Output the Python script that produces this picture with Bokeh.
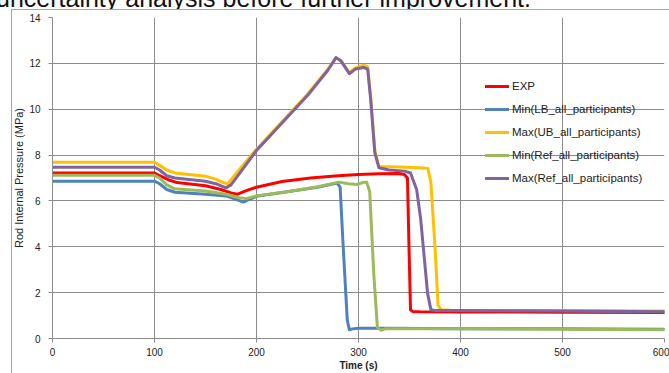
from bokeh.plotting import figure
from bokeh.layouts import column
from bokeh.models import FixedTicker, Legend, LegendItem, Range1d, Div
from bokeh.embed import file_html
from bokeh.resources import INLINE

# ---- data ----
heading_text = "uncertainty analysis before further improvement."
x_label = "Time (s)"
y_label = "Rod Internal Pressure (MPa)"
x_ticks = [0, 100, 200, 300, 400, 500, 600]
y_ticks = [0, 2, 4, 6, 8, 10, 12, 14]

series_names = ["EXP", "Min(LB_all_participants)", "Max(UB_all_participants)",
                "Min(Ref_all_participants)", "Max(Ref_all_participants)"]
series_colors = ["#FF0000", "#4F81BD", "#FFC000", "#9BBB59", "#8064A2"]

exp_t = [0, 100, 105, 115, 122, 150, 165, 175, 181, 190, 200, 225, 253, 280, 300, 320, 340, 345, 348, 349.5, 351, 353, 360, 400, 500, 600]
exp_v = [7.22, 7.22, 7.1, 6.9, 6.8, 6.66, 6.5, 6.35, 6.29, 6.45, 6.6, 6.85, 7.0, 7.1, 7.15, 7.18, 7.2, 7.15, 7.0, 4.0, 1.25, 1.18, 1.17, 1.16, 1.15, 1.13]

minlb_t = [0, 100, 105, 112, 120, 150, 170, 180, 187, 193, 200, 230, 260, 279, 282, 285, 289, 291, 294, 300, 330, 400, 490, 600]
minlb_v = [6.86, 6.86, 6.75, 6.5, 6.38, 6.29, 6.22, 6.07, 5.95, 6.07, 6.2, 6.4, 6.6, 6.78, 6.6, 4.0, 0.8, 0.38, 0.42, 0.45, 0.45, 0.43, 0.42, 0.40]

maxub_t = [0, 100, 105, 112, 120, 150, 160, 168, 172, 180, 200, 225, 250, 270, 278, 283, 291, 297, 305, 309, 312, 316, 320, 340, 360, 368, 371, 375, 378, 381, 390, 500, 600]
maxub_v = [7.69, 7.69, 7.55, 7.35, 7.22, 7.08, 6.95, 6.79, 6.75, 7.2, 8.25, 9.45, 10.65, 11.75, 12.25, 12.1, 11.6, 11.8, 11.92, 11.85, 10.5, 8.2, 7.5, 7.48, 7.45, 7.42, 6.8, 4.0, 1.45, 1.25, 1.23, 1.22, 1.2]

minref_t = [0, 100, 105, 112, 120, 150, 170, 183, 190, 200, 230, 260, 281, 290, 299, 304, 308, 311, 315, 318.5, 322, 326, 400, 500, 600]
minref_v = [7.12, 7.12, 7.0, 6.7, 6.53, 6.43, 6.29, 6.14, 6.1, 6.22, 6.4, 6.62, 6.82, 6.75, 6.72, 6.8, 6.82, 6.4, 2.8, 0.5, 0.36, 0.42, 0.42, 0.40, 0.38]

maxref_t = [0, 100, 105, 112, 120, 150, 160, 170, 175, 200, 225, 250, 270, 278, 283, 291, 297, 305, 309, 312, 316, 320, 330, 345, 351, 357, 361, 364, 367.7, 371, 375, 400, 500, 600]
maxref_v = [7.47, 7.47, 7.35, 7.1, 7.0, 6.86, 6.75, 6.57, 6.7, 8.2, 9.4, 10.6, 11.7, 12.25, 12.1, 11.55, 11.75, 11.82, 11.75, 10.4, 8.1, 7.45, 7.35, 7.3, 7.22, 6.5, 5.2, 3.75, 1.98, 1.25, 1.22, 1.22, 1.2, 1.17]

series_t = [exp_t, minlb_t, maxub_t, minref_t, maxref_t]
series_v = [exp_v, minlb_v, maxub_v, minref_v, maxref_v]

# heading line of the surrounding document, of which only the lower part shows
heading = Div(
    text=('<div style="position:relative; top:-14px; left:-4px; white-space:nowrap; '
          'font-family:\'Liberation Sans\', Arial, sans-serif; font-size:25px; '
          'line-height:25px; color:#111111;">' + heading_text + '</div>'),
    width=669, height=9, margin=0,
    styles={"overflow": "hidden", "background-color": "white"})

# chart-area border (left and top edges) drawn behind the transparent border area
border_css = {
    "background-color": "white",
    "background-image": "linear-gradient(#A6A6A6, #A6A6A6), linear-gradient(#A6A6A6, #A6A6A6)",
    "background-size": "1px 100%, 100% 1px",
    "background-position": "11px 0px, 11px 0px",
    "background-repeat": "no-repeat",
}

# ---- figure ----
p = figure(width=669, height=364, output_backend="svg", toolbar_location=None,
           x_range=Range1d(0, 600), y_range=Range1d(0, 14),
           min_border_left=52, min_border_right=5, min_border_top=8, min_border_bottom=33,
           background_fill_color="white", border_fill_color=None,
           styles=border_css, margin=0)
p.outline_line_color = None

grid_col = "#8C8C8C"
p.xgrid.grid_line_color = grid_col
p.ygrid.grid_line_color = grid_col
p.xaxis.ticker = FixedTicker(ticks=x_ticks)
p.yaxis.ticker = FixedTicker(ticks=y_ticks)
for ax in (p.xaxis[0], p.yaxis[0]):
    ax.axis_line_color = grid_col
    ax.major_tick_line_color = grid_col
    ax.major_tick_out = 4
    ax.major_tick_in = 0
    ax.minor_tick_line_color = None
    ax.major_label_text_font = "Liberation Sans"
    ax.major_label_text_font_size = "10px"
    ax.major_label_text_color = "#222222"
    ax.axis_label_text_font = "Liberation Sans"
    ax.axis_label_text_color = "#222222"

p.xaxis.axis_label = x_label
p.xaxis.axis_label_text_font_size = "10px"
p.xaxis.axis_label_text_font_style = "bold"
p.xaxis.major_label_standoff = 5
p.xaxis.axis_label_standoff = 1

p.yaxis.axis_label = y_label
p.yaxis.axis_label_text_font_size = "11px"
p.yaxis.axis_label_text_font_style = "normal"
p.yaxis.major_label_standoff = 8
p.yaxis.axis_label_standoff = 1

items = []
for name, col, t, v in zip(series_names, series_colors, series_t, series_v):
    r = p.line(t, v, line_color=col, line_width=3, line_join="round", line_cap="round")
    items.append(LegendItem(label=name, renderers=[r]))

legend = Legend(items=items, location=(433, 150.5), padding=0, margin=0, spacing=3,
                glyph_width=24, glyph_height=20, label_height=20, label_standoff=3,
                label_text_font="Liberation Sans", label_text_font_size="11.5px",
                label_text_color="#222222", border_line_color=None,
                background_fill_alpha=0)
p.add_layout(legend, "center")

layout = column(heading, p, spacing=0, margin=0)

open("out.html", "w").write(file_html(layout, INLINE))
